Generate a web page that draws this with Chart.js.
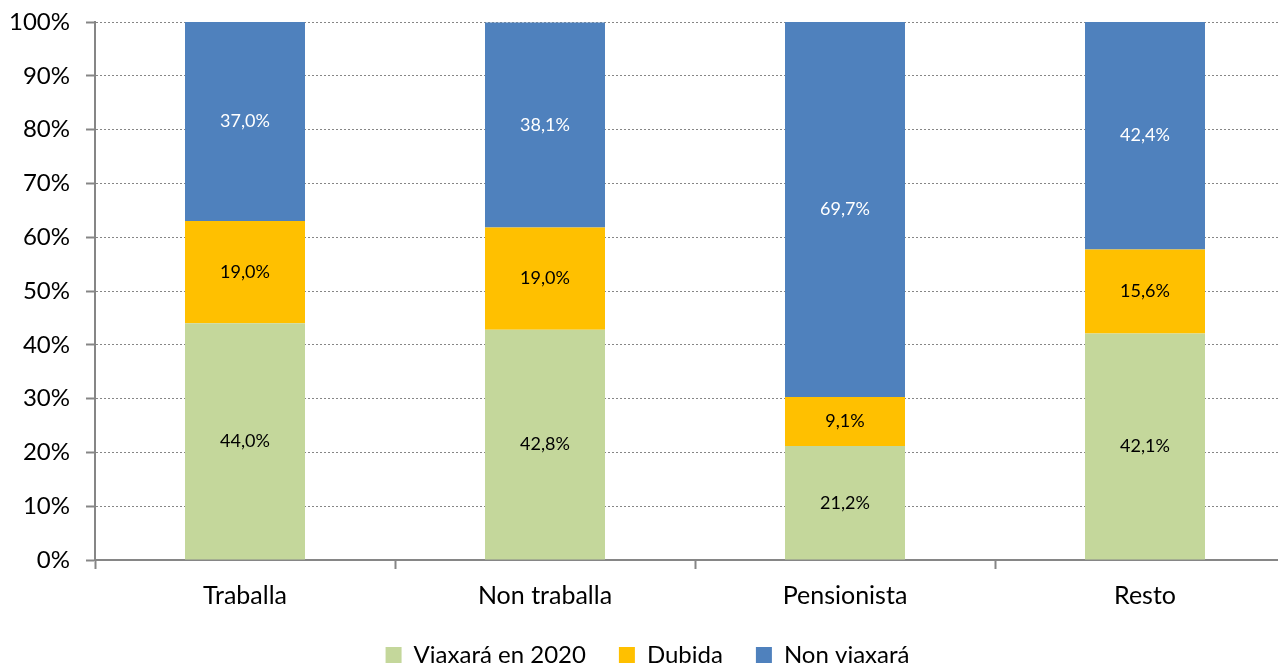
<!DOCTYPE html>
<html>
<head>
<meta charset="utf-8">
<script src="https://cdn.jsdelivr.net/npm/chart.js@4"></script>
<style>
  html, body { margin: 0; padding: 0; background: #fff; overflow: hidden; }
  #wrap { width: 1305px; height: 677px; position: relative; }
</style>
</head>
<body>
<div id="wrap"><canvas id="grafico"></canvas></div>
<script>
const categorias = ['Traballa', 'Non traballa', 'Pensionista', 'Resto'];
const viaxara = [44.0, 42.8, 21.2, 42.1];
const dubida = [19.0, 19.0, 9.1, 15.6];
const nonViaxara = [37.0, 38.1, 69.7, 42.4];

const fonte = 'Lato, "Liberation Sans", sans-serif';
const cinza = '#868686';

// etiquetas no centro de cada segmento
const etiquetas = {
  id: 'etiquetas',
  afterDatasetsDraw(chart) {
    const ctx = chart.ctx;
    ctx.save();
    ctx.font = '18px ' + fonte;
    ctx.textAlign = 'center';
    ctx.textBaseline = 'middle';
    chart.data.datasets.forEach((ds, i) => {
      const meta = chart.getDatasetMeta(i);
      meta.data.forEach((bar, j) => {
        const v = ds.data[j];
        ctx.fillStyle = ds.labelColor;
        ctx.fillText(v.toFixed(1).replace('.', ',') + '%', bar.x, (bar.y + bar.base) / 2);
      });
    });
    ctx.restore();
  }
};

new Chart(document.getElementById('grafico').getContext('2d'), {
  type: 'bar',
  data: {
    labels: categorias,
    datasets: [
      { label: 'Viaxará en 2020', data: viaxara, backgroundColor: '#C4D79B', labelColor: '#000' },
      { label: 'Dubida', data: dubida, backgroundColor: '#FFC000', labelColor: '#000' },
      { label: 'Non viaxará', data: nonViaxara, backgroundColor: '#4F81BD', labelColor: '#fff' }
    ]
  },
  options: {
    responsive: true,
    maintainAspectRatio: false,
    animation: false,
    categoryPercentage: 1,
    barPercentage: 0.4,
    layout: { padding: { top: 22, right: 10, left: 0, bottom: 0 } },
    plugins: {
      legend: {
        position: 'bottom',
        labels: {
          boxWidth: 16,
          boxHeight: 16,
          padding: 33,
          color: '#000',
          font: { family: fonte, size: 24 }
        }
      },
      tooltip: { enabled: false }
    },
    scales: {
      x: {
        stacked: true,
        afterFit: (s) => { s.height = 50; },
        grid: {
          offset: true,
          drawOnChartArea: false,
          tickLength: 9,
          tickColor: cinza,
          tickWidth: 2
        },
        border: { color: cinza, width: 2 },
        ticks: { color: '#000', padding: 12, font: { family: fonte, size: 25 } }
      },
      y: {
        stacked: true,
        min: 0,
        max: 100,
        afterFit: (s) => { s.width = 95; s.paddingTop = 0; s.paddingBottom = 0; },
        grid: {
          color: cinza,
          lineWidth: 1,
          tickLength: 9,
          tickColor: cinza,
          tickWidth: 2,
          tickBorderDash: []
        },
        border: { color: cinza, width: 2, dash: [2, 2] },
        ticks: {
          stepSize: 10,
          color: '#000',
          padding: 16,
          font: { family: fonte, size: 24 },
          callback: (v) => v + '%'
        }
      }
    }
  },
  plugins: [etiquetas]
});
</script>
</body>
</html>
